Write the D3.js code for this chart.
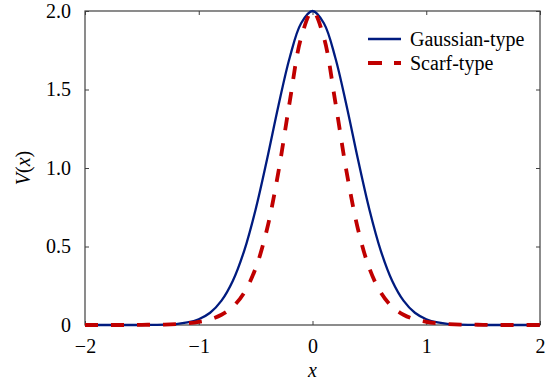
<!DOCTYPE html>
<html>
<head>
<meta charset="utf-8">
<script src="https://cdn.jsdelivr.net/npm/d3@7"></script>
<style>
  body { margin: 0; background: #fff; }
</style>
</head>
<body>
<div id="chart"></div>
<script>
// sample positions along x
const xValues = [-2.0, -1.9, -1.8, -1.7, -1.6, -1.5, -1.4, -1.3, -1.2, -1.1,
  -1.0, -0.9, -0.8, -0.7, -0.6, -0.5, -0.4, -0.3, -0.2, -0.1,
  0.0, 0.1, 0.2, 0.3, 0.4, 0.5, 0.6, 0.7, 0.8, 0.9,
  1.0, 1.1, 1.2, 1.3, 1.4, 1.5, 1.6, 1.7, 1.8, 1.9, 2.0];

// V(x)
const gaussianValues = [0, 0, 0, 0, 0, 0, 0.001, 0.002, 0.006, 0.016,
  0.037, 0.078, 0.155, 0.282, 0.474, 0.736, 1.054, 1.395, 1.704, 1.922,
  2.0, 1.922, 1.704, 1.395, 1.054, 0.736, 0.474, 0.282, 0.155, 0.078,
  0.037, 0.016, 0.006, 0.002, 0.001, 0, 0, 0, 0, 0, 0];
const scarfValues = [0, 0, 0, 0, 0, 0.001, 0.002, 0.003, 0.006, 0.011,
  0.020, 0.036, 0.065, 0.116, 0.207, 0.361, 0.610, 0.974, 1.423, 1.830,
  2.0, 1.830, 1.423, 0.974, 0.610, 0.361, 0.207, 0.116, 0.065, 0.036,
  0.020, 0.011, 0.006, 0.003, 0.002, 0.001, 0, 0, 0, 0, 0];

const seriesNames = ['Gaussian-type', 'Scarf-type'];
const xTicks = [-2, -1, 0, 1, 2];
const yTicks = [0, 0.5, 1.0, 1.5, 2.0];

const W = 552, H = 383;
const margin = { top: 11, right: 12, bottom: 58, left: 85 };
const width = W - margin.left - margin.right,
  height = H - margin.top - margin.bottom;
const serif = "'Liberation Serif', 'Times New Roman', Times, 'DejaVu Serif', serif";

const svg = d3.select('#chart').append('svg')
  .attr('width', W)
  .attr('height', H)
  .attr('font-family', serif);
const g = svg.append('g')
  .attr('transform', `translate(${margin.left},${margin.top})`);

const x = d3.scaleLinear().domain([-2, 2]).range([0, width]);
const y = d3.scaleLinear().domain([0, 2]).range([height, 0]);

const fmtX = d => d < 0 ? '\u2212' + Math.abs(d) : String(d);
const fmtY = d => d === 0 ? '0' : d3.format('.1f')(d);

// axes, ticks pointing inward on all four sides
const axisColor = '#404040';
const styleAxis = sel => {
  sel.attr('font-family', serif).attr('font-size', 20);
  sel.select('.domain').remove();
  sel.selectAll('line').attr('stroke', axisColor);
  sel.selectAll('text').attr('fill', '#000');
};

g.append('g')
  .attr('transform', `translate(0,${height})`)
  .call(d3.axisBottom(x).tickValues(xTicks).tickSizeInner(-4).tickSizeOuter(0).tickPadding(14).tickFormat(fmtX))
  .call(styleAxis);
g.append('g')
  .call(d3.axisTop(x).tickValues(xTicks).tickSizeInner(-4).tickSizeOuter(0).tickFormat(''))
  .call(styleAxis);
g.append('g')
  .call(d3.axisLeft(y).tickValues(yTicks).tickSizeInner(-4).tickSizeOuter(0).tickPadding(14).tickFormat(fmtY))
  .call(styleAxis);
g.append('g')
  .attr('transform', `translate(${width},0)`)
  .call(d3.axisRight(y).tickValues(yTicks).tickSizeInner(-4).tickSizeOuter(0).tickFormat(''))
  .call(styleAxis);

g.append('rect')
  .attr('width', width)
  .attr('height', height)
  .attr('fill', 'none')
  .attr('stroke', axisColor)
  .attr('stroke-width', 1.2);

// curves
const line = d3.line()
  .x(d => x(d[0]))
  .y(d => y(d[1]))
  .curve(d3.curveCatmullRom);

const styles = [
  { color: '#001b7f', width: 2.3, dash: null },
  { color: '#c00000', width: 3.8, dash: '13,13' }
];

[gaussianValues, scarfValues].forEach((vals, i) => {
  g.append('path')
    .datum(xValues.map((xv, j) => [xv, vals[j]]))
    .attr('d', line)
    .attr('fill', 'none')
    .attr('stroke', styles[i].color)
    .attr('stroke-width', styles[i].width)
    .attr('stroke-dasharray', styles[i].dash);
});

// legend
const legend = svg.append('g').attr('transform', 'translate(368,39)');
seriesNames.forEach((name, i) => {
  const row = legend.append('g').attr('transform', `translate(0,${i * 24})`);
  row.append('line')
    .attr('x1', 0).attr('x2', 33)
    .attr('stroke', styles[i].color)
    .attr('stroke-width', styles[i].width)
    .attr('stroke-dasharray', i === 1 ? '14,12' : null);
  row.append('text')
    .attr('x', 42).attr('dy', '0.33em')
    .attr('font-size', 20)
    .text(name);
});

// axis titles
svg.append('text')
  .attr('x', margin.left + width / 2)
  .attr('y', 377)
  .attr('text-anchor', 'middle')
  .attr('font-size', 20)
  .attr('font-style', 'italic')
  .text('x');

const yTitle = svg.append('text')
  .attr('transform', `translate(30,${margin.top + height / 2}) rotate(-90)`)
  .attr('text-anchor', 'middle')
  .attr('font-size', 20);
yTitle.append('tspan').attr('font-style', 'italic').text('V');
yTitle.append('tspan').text('(');
yTitle.append('tspan').attr('font-style', 'italic').text('x');
yTitle.append('tspan').text(')');
</script>
</body>
</html>
